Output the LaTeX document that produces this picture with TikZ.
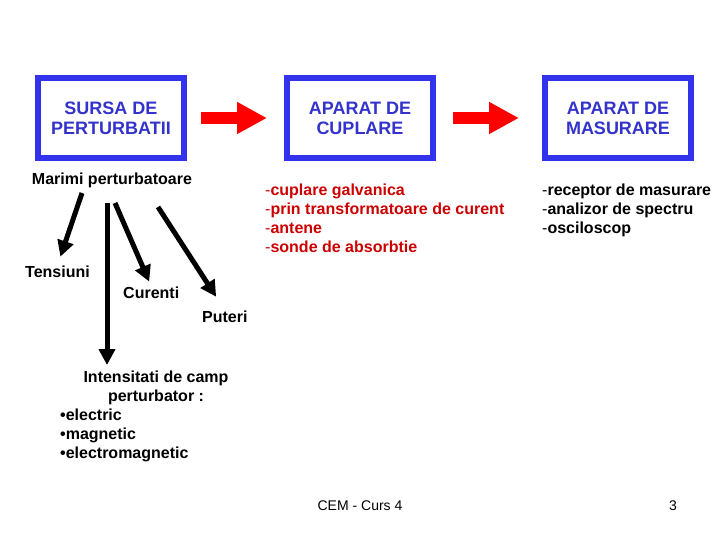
\documentclass[tikz,border=0pt]{standalone}
\usepackage{fontspec}
\setmainfont{Liberation Sans}
\usetikzlibrary{positioning,arrows.meta}
\definecolor{frame}{HTML}{3333EE}
\definecolor{title}{HTML}{3333CC}
\definecolor{flow}{HTML}{FF0000}
\definecolor{lst}{HTML}{CC0000}
\tikzset{
  box/.style={draw=frame, line width=6pt, minimum width=146pt, minimum height=80pt, align=center, text=title, font=\fontsize{18}{20}\selectfont\bfseries},
  flowarr/.style={-{Triangle[length=30pt,width=30pt]}, line width=12pt, flow},
  arr/.style={-{Triangle[length=16pt,width=16pt]}, line width=5pt},
  txt/.style={font=\fontsize{16}{19}\selectfont\bfseries, inner sep=0pt, align=left},
  foot/.style={font=\fontsize{14}{16}\selectfont, inner sep=0pt},
}
\newcommand{\dsh}{{\mdseries-}}
\begin{document}
\begin{tikzpicture}[x=1pt,y=-1pt]
  \useasboundingbox[fill=white] (0,0) rectangle (720,540);
  % chain of the three blocks
  \node[box] (src) at (111,118) {SURSA DE\\PERTURBATII};
  \node[box] (cpl) at (360,118) {APARAT DE\\CUPLARE};
  \node[box] (msr) at (618,118) {APARAT DE\\MASURARE};
  \draw[flowarr, shorten <=14pt, shorten >=17pt] (src) -- (cpl);
  \draw[flowarr, shorten <=17pt, shorten >=23pt] (cpl) -- (msr);
  % lists under the blocks
  \node[txt, text=lst, anchor=north west] (cpllist) at (265,183.5) {\dsh cuplare galvanica\\\dsh prin transformatoare de curent\\\dsh antene\\\dsh sonde de absorbtie};
  \node[txt, anchor=north west] (msrlist) at (542,183.5) {\dsh receptor de masurare\\\dsh analizor de spectru\\\dsh osciloscop};
  % perturbing quantities
  \node[txt, anchor=base] (mar) at (112,185) {Marimi perturbatoare};
  \node[txt, anchor=base west] (tens) at (25,277) {Tensiuni};
  \node[txt, anchor=base west] (cur) at (123,298) {Curenti};
  \node[txt, anchor=base west] (put) at (202,322) {Puteri};
  \node[txt, align=center, anchor=north] (intens) at (156,370.5) {Intensitati de camp\\perturbator :};
  \node[txt, anchor=north west] (kinds) at (60,408.5) {\textbullet electric\\\textbullet magnetic\\\textbullet electromagnetic};
  \coordinate (t0) at (82,193);
  \coordinate (v0) at (107,203);
  \coordinate (c0) at (115,203);
  \coordinate (p0) at (158,207);
  \draw[arr, shorten >=9pt] (t0) -- (tens.north);
  \draw[arr, shorten >=5pt] (c0) -- (cur.north);
  \draw[arr, shorten >=16pt] (p0) -- (put.north);
  \draw[arr, shorten >=5.5pt] (v0) -- (v0 |- intens.north);
  % footer
  \node[foot, anchor=base] (course) at (360,510) {CEM - Curs 4};
  \node[foot, anchor=base] (page) at (673,510) {3};
\end{tikzpicture}
\end{document}
